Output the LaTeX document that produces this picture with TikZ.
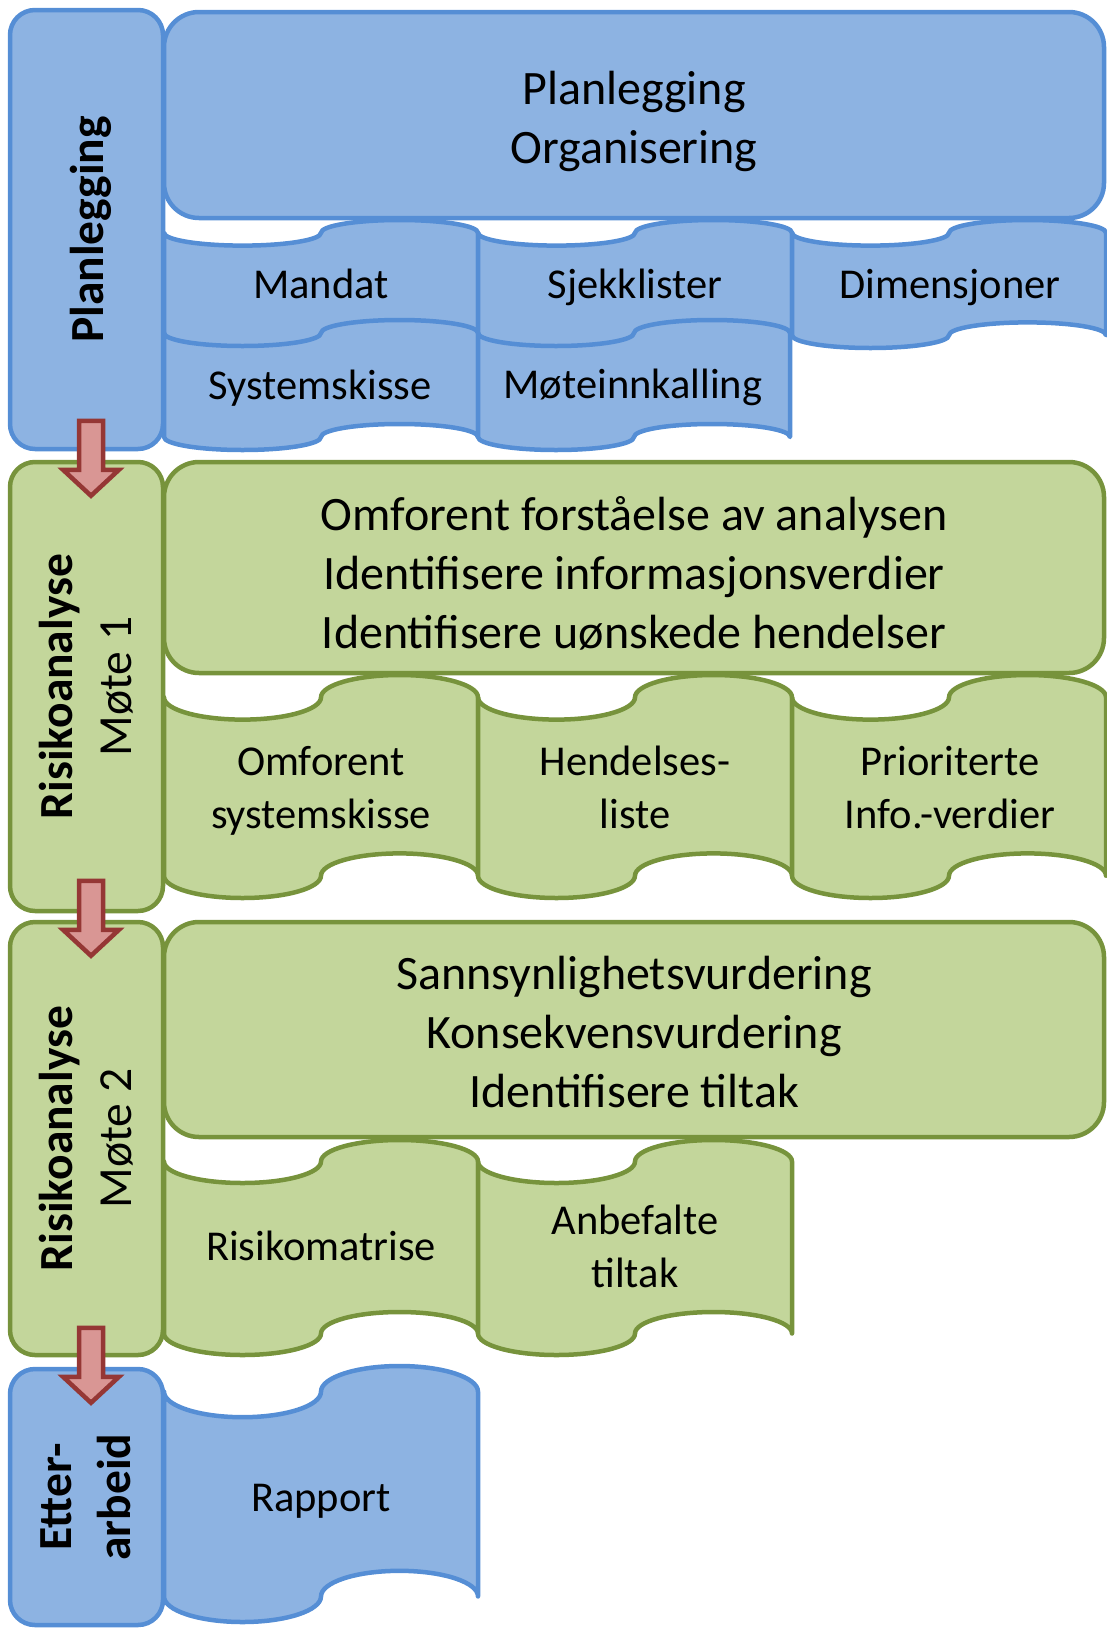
\documentclass[tikz,border=0pt]{standalone}
\usepackage{fontspec}
\setmainfont{Carlito}
\usetikzlibrary{calc}
\definecolor{bfill}{HTML}{8DB3E2}
\definecolor{bline}{HTML}{558ED5}
\definecolor{gfill}{HTML}{C3D69B}
\definecolor{gline}{HTML}{77933C}
\definecolor{afill}{HTML}{D99694}
\definecolor{aline}{HTML}{953735}
% punched-tape shape: style, left, top, width, height (screen px)
\newcommand\tapeshape[5]{%
  \pgfmathsetmacro\tpA{#5/10}\pgfmathsetmacro\tpQ{#4/4}%
  \draw[#1] (#2,{#3+\tpA})
    arc[start angle=180,end angle=360,x radius=\tpQ pt,y radius=\tpA pt]
    arc[start angle=180,end angle=0,x radius=\tpQ pt,y radius=\tpA pt]
    -- ({#2+#4},{#3+#5-\tpA})
    arc[start angle=0,end angle=180,x radius=\tpQ pt,y radius=\tpA pt]
    arc[start angle=0,end angle=-180,x radius=\tpQ pt,y radius=\tpA pt]
    -- cycle;}
\tikzset{
  bluebox/.style={draw=bline, fill=bfill, line width=4.5pt, line join=round},
  greenbox/.style={draw=gline, fill=gfill, line width=4.5pt, line join=round},
  colbox/.style={rectangle, rounded corners=25pt, minimum width=153pt, inner sep=0pt},
  topbox/.style={rectangle, rounded corners=35pt, minimum width=940pt, inner sep=0pt},
  toptext/.style={font=\fontsize{48}{59}\selectfont, align=center, inner sep=0pt,
    execute at begin node=\strut, execute at end node=\strut},
  tapetext/.style={font=\fontsize{42.5}{53}\selectfont, align=center, inner sep=0pt,
    execute at begin node=\strut, execute at end node=\strut},
  coltext/.style={rotate=90, font=\fontsize{47.5}{59}\selectfont\bfseries, align=center, inner sep=0pt,
    execute at begin node=\strut, execute at end node=\strut},
  arrowsty/.style={draw=aline, fill=afill, line width=4.5pt, line join=miter},
  downarr/.pic={\path[arrowsty] (-12,0) -- (12,0) -- (12,49) -- (28,49) -- (0,75)
      -- (-28,49) -- (-12,49) -- cycle;}
}
\begin{document}
\begin{tikzpicture}[x=1pt, y=-1pt]
\useasboundingbox (0,0) rectangle (1107,1628);
% left column boxes
\node[bluebox, colbox, minimum height=439pt] (cplan) at (86.5,229.5) {};
\node[greenbox, colbox, minimum height=449pt] (crisk1) at (86.5,686.5) {};
\node[greenbox, colbox, minimum height=433pt] (crisk2) at (86.5,1138.5) {};
\node[bluebox, colbox, minimum height=256pt] (cetter) at (86.5,1497) {};
% top boxes
\node[bluebox, topbox, minimum height=206pt] (tplan) at (634,115) {};
\node[greenbox, topbox, minimum height=211pt] (trisk1) at (634,567.5) {};
\node[greenbox, topbox, minimum height=215pt] (trisk2) at (634,1029.5) {};
% tapes
\tapeshape{bluebox}{164}{220}{314}{128}
\tapeshape{bluebox}{478}{220}{314}{128}
\tapeshape{bluebox}{792}{220}{314}{128}
\tapeshape{bluebox}{164}{320}{314}{130}
\tapeshape{bluebox}{478}{320}{312}{130}
\tapeshape{greenbox}{164}{675}{314}{223}
\tapeshape{greenbox}{478}{675}{314}{223}
\tapeshape{greenbox}{792}{675}{314}{223}
\tapeshape{greenbox}{164}{1140}{314}{215}
\tapeshape{greenbox}{478}{1140}{314}{215}
\tapeshape{bluebox}{164}{1366}{314}{256}
% arrows between phases
\pic at ($(crisk1.north)+(4.5,-39)$) {downarr};
\pic at ($(crisk2.north)+(4.5,-39)$) {downarr};
\pic at ($(cetter.north)+(4.5,-39)$) {downarr};
% column labels
\node[coltext] (lplan) at ($(cplan.center)+(5,0)$) {Planlegging};
\node[coltext] (lrisk1) at ($(crisk1.center)+(8,0)$) {Risikoanalyse\\\mdseries Møte 1};
\node[coltext] (lrisk2) at ($(crisk2.center)+(8,0)$) {Risikoanalyse\\\mdseries Møte 2};
\node[coltext] (letter) at ($(cetter.center)+(8,0)$) {Etter-\\arbeid};
% top texts
\node[toptext] (xplan) at (634,126) {Planlegging\\Organisering};
\node[toptext] (xrisk1) at (634,581) {Omforent forståelse av analysen\\Identifisere informasjonsverdier\\Identifisere uønskede hendelser};
\node[toptext] (xrisk2) at (634,1041) {Sannsynlighetsvurdering\\Konsekvensvurdering\\Identifisere tiltak};
% tape texts
\node[tapetext] (mandat) at (321,288) {Mandat};
\node[tapetext] (sjekk) at (635,288) {Sjekklister};
\node[tapetext] (dim) at (950,288) {Dimensjoner};
\node[tapetext] (syst) at (320,389) {Systemskisse};
\node[tapetext] (mote) at (633,388) {Møteinnkalling};
\node[tapetext] (omf) at (321,795) {Omforent\\systemskisse};
\node[tapetext] (hend) at (635,795) {Hendelses-\\liste};
\node[tapetext] (prio) at (950,795) {Prioriterte\\Info.-verdier};
\node[tapetext] (rmat) at (321,1250) {Risikomatrise};
\node[tapetext] (anb) at (635,1254) {Anbefalte\\tiltak};
\node[tapetext] (rapp) at (321,1501) {Rapport};
\end{tikzpicture}
\end{document}
